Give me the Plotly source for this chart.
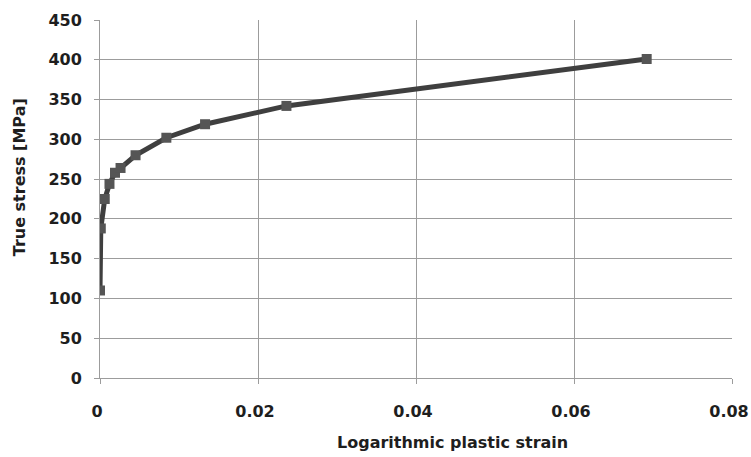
import plotly.graph_objects as go

strain = [0.0, 0.0001, 0.0006, 0.0012, 0.0019, 0.0026, 0.0045, 0.0084, 0.0133, 0.0236, 0.0692]
stress = [110, 188, 225, 244, 258, 264, 280, 302, 319, 342, 401]

x_ticks = [0, 0.02, 0.04, 0.06, 0.08]
x_tick_text = ["0", "0.02", "0.04", "0.06", "0.08"]
y_ticks = [0, 50, 100, 150, 200, 250, 300, 350, 400, 450]
x_title = "Logarithmic plastic strain"
y_title = "True stress [MPa]"

font_family = "DejaVu Sans, Roboto, sans-serif"
grid_col = "#9c9c9c"
text_col = "#1e1e1e"

fig = go.Figure()
fig.add_trace(go.Scatter(
    x=strain, y=stress, mode="lines+markers",
    line=dict(color="#3f3f3f", width=5),
    marker=dict(symbol="square", size=10, color="#555555"),
    showlegend=False,
))

fig.update_layout(
    width=751, height=457,
    margin=dict(l=100, r=19, t=20, b=79),
    paper_bgcolor="white", plot_bgcolor="white",
    font=dict(family=font_family, color=text_col, size=14),
)
fig.update_xaxes(
    range=[0, 0.08], tickvals=x_ticks, ticktext=x_tick_text,
    showgrid=True, gridcolor=grid_col, gridwidth=1,
    showline=True, linecolor=grid_col, linewidth=1,
    ticks="outside", ticklen=5, tickcolor=grid_col,
    zeroline=False, automargin=False, ticklabelstandoff=14,
    ticklabelshift=-3, ticklabeloverflow="allow",
    tickfont=dict(family=font_family, size=16, color=text_col, weight="bold"),
)
fig.update_yaxes(
    range=[0, 450], tickvals=y_ticks,
    showgrid=True, gridcolor=grid_col, gridwidth=1,
    showline=True, linecolor=grid_col, linewidth=1,
    ticks="outside", ticklen=5, tickcolor=grid_col,
    zeroline=False, automargin=False, ticklabelstandoff=9,
    ticklabeloverflow="allow",
    tickfont=dict(family=font_family, size=16, color=text_col, weight="bold"),
)

fig.add_annotation(
    text="<b>" + x_title + "</b>", xref="paper", yref="paper",
    x=0.557, y=-0.179, xanchor="center", yanchor="middle", showarrow=False,
    font=dict(family=font_family, size=16, color=text_col),
)
fig.add_annotation(
    text="<b>" + y_title + "</b>", xref="paper", yref="paper",
    x=-0.128, y=0.561, xanchor="center", yanchor="middle", showarrow=False,
    textangle=-90,
    font=dict(family=font_family, size=16, color=text_col),
)

fig.write_html(
    "out.html",
    config={"displayModeBar": False},
    post_script="document.body.style.margin='0';document.body.style.overflow='hidden';",
)
